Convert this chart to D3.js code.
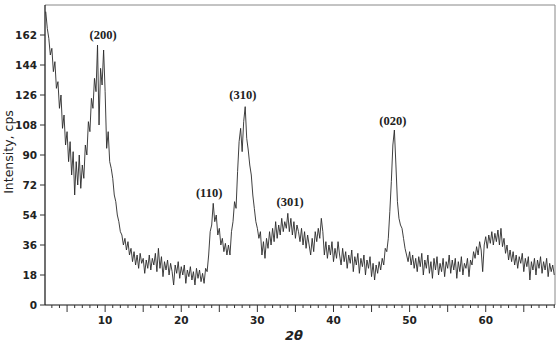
<!DOCTYPE html>
<html>
<head>
<meta charset="utf-8">
<script src="https://d3js.org/d3.v7.min.js"></script>
<style>
body { margin: 0; background: #fff; }
svg { display: block; }
.tick-label { font-family: "DejaVu Sans", Verdana, sans-serif; font-size: 10.5px; font-weight: bold; fill: #222; }
.peak { font-family: "Liberation Serif", "Times New Roman", serif; font-size: 12.5px; font-weight: bold; fill: #222; }
</style>
</head>
<body>
<script>
// scan settings (constant step scan)
var scanStart = 2.2;
var scanStep = 0.2;

// intensities, split by range
var int02to10 = [176,166,160,150,154,140,146,130,134,118,126,106,114,96,104,86,98,78,92,66,
  86,72,90,70,84,76,96,90,110,104,124,118,136,128,156,108,142,132,153,128];
var int10to20 = [94,104,86,82,76,66,62,54,50,44,42,36,40,33,38,30,34,26,32,24,
  30,22,31,25,28,19,27,22,30,21,28,24,31,20,34,22,29,17,26,21,
  27,18,25,20,12,24,19,26,16,23];
var int20to30 = [18,24,13,21,17,23,15,20,12,22,16,21,14,19,13,22,20,30,44,48,
  61,50,54,42,46,36,40,32,37,30,36,30,44,50,62,58,80,98,106,92,
  110,119,100,93,84,78,66,58,50,46];
var int30to40 = [40,44,30,38,28,40,34,44,36,46,38,50,40,48,42,52,44,50,46,55,
  44,52,42,50,40,48,44,38,46,36,44,34,42,36,30,40,32,44,38,46,
  40,52,44,30,38,28,36,30,38,26];
var int40to50 = [34,28,38,30,24,34,26,32,22,30,25,33,20,29,24,31,19,28,23,30,
  18,27,22,29,17,25,15,24,19,26,21,28,24,34,32,40,56,74,96,105,
  84,62,52,48,46,40,34,30,26,32];
var int50to60 = [24,30,22,28,20,29,23,31,18,27,22,30,19,26,16,28,21,29,18,25,
  20,28,17,26,22,30,19,27,21,28,16,26,20,29,18,25,22,28,17,27,
  24,32,28,35,30,38,33,20,36,41];
var int60to69 = [34,42,37,44,36,43,38,45,36,46,35,40,31,36,27,33,26,32,24,30,
  22,29,25,31,20,28,23,29,15,26,21,28,18,27,22,29,19,26,21,28,
  17,25,20,24,18];

var yTicks = [0, 18, 36, 54, 72, 90, 108, 126, 144, 162];
var xTicks = [10, 20, 30, 40, 50, 60];

var peakLabels = ["(200)", "(110)", "(310)", "(301)", "(020)"];
var peakAngle = [9.74, 23.66, 28.1, 34.3, 47.8];
var peakTop = [159.6, 64.8, 123.6, 59.4, 108];

var intensity = [].concat(int02to10, int10to20, int20to30, int30to40, int40to50, int50to60, int60to69);
var scan = intensity.map(function(v, i) {
  return { t: scanStart + i * scanStep, v: v };
});

var width = 559, height = 347;
var plotL = 45, plotR = 555, plotT = 5, plotB = 305;

var svg = d3.select("body").append("svg")
  .attr("width", width)
  .attr("height", height);

var x = d3.scaleLinear().domain([2.1, 69.1]).range([plotL, plotR]);
var y = d3.scaleLinear().domain([0, 180]).range([plotB, plotT]);

// frame: top and right in grey
svg.append("path")
  .attr("d", "M" + plotL + "," + plotT + "H" + plotR + "V" + plotB)
  .attr("fill", "none")
  .attr("stroke", "#888")
  .attr("stroke-width", 1);

// spectrum
var line = d3.line()
  .x(function(d) { return x(d.t); })
  .y(function(d) { return y(d.v); });

svg.append("path")
  .datum(scan)
  .attr("fill", "none")
  .attr("stroke", "#2a2a2a")
  .attr("stroke-width", 0.9)
  .attr("stroke-linejoin", "round")
  .attr("d", line);

// x axis: minor ticks every degree, longer every five
var minor = d3.range(3, 70, 1);
var xAxis = svg.append("g").attr("transform", "translate(0," + plotB + ")");
xAxis.append("line")
  .attr("x1", plotL).attr("x2", plotR)
  .attr("stroke", "#111").attr("stroke-width", 1.2);
xAxis.selectAll(".mt")
  .data(minor)
  .enter().append("line")
  .attr("x1", function(d) { return x(d); })
  .attr("x2", function(d) { return x(d); })
  .attr("y1", 0)
  .attr("y2", function(d) { return d % 5 === 0 ? 7 : 3; })
  .attr("stroke", "#333")
  .attr("stroke-width", 1);
xAxis.selectAll(".tick-label")
  .data(xTicks)
  .enter().append("text")
  .attr("class", "tick-label")
  .attr("x", function(d) { return x(d); })
  .attr("y", 18.5)
  .attr("text-anchor", "middle")
  .text(function(d) { return d; });

// y axis
var yAxis = svg.append("g").attr("transform", "translate(" + plotL + ",0)");
yAxis.append("line")
  .attr("y1", plotT).attr("y2", plotB)
  .attr("stroke", "#111").attr("stroke-width", 1.2);
yAxis.selectAll(".yt")
  .data(yTicks)
  .enter().append("line")
  .attr("x1", -5).attr("x2", 0)
  .attr("y1", function(d) { return y(d); })
  .attr("y2", function(d) { return y(d); })
  .attr("stroke", "#333");
yAxis.selectAll(".tick-label")
  .data(yTicks)
  .enter().append("text")
  .attr("class", "tick-label")
  .attr("x", -8)
  .attr("y", function(d) { return y(d); })
  .attr("dy", "0.35em")
  .attr("text-anchor", "end")
  .text(function(d) { return d; });

// axis titles
svg.append("text")
  .attr("transform", "translate(13,152) rotate(-90)")
  .attr("text-anchor", "middle")
  .style("font-family", "DejaVu Sans, Verdana, sans-serif")
  .style("font-size", "12.5px")
  .style("fill", "#222")
  .text("Intensity, cps");

svg.append("text")
  .attr("x", 294)
  .attr("y", 340)
  .attr("text-anchor", "middle")
  .style("font-family", "DejaVu Sans, Verdana, sans-serif")
  .style("font-size", "13px")
  .style("font-style", "italic")
  .style("font-weight", "bold")
  .style("fill", "#222")
  .text("2θ");

// peak indices
svg.selectAll(".peak")
  .data(peakLabels)
  .enter().append("text")
  .attr("class", "peak")
  .attr("x", function(d, i) { return x(peakAngle[i]); })
  .attr("y", function(d, i) { return y(peakTop[i]); })
  .attr("text-anchor", "middle")
  .text(function(d) { return d; });
</script>
</body>
</html>
